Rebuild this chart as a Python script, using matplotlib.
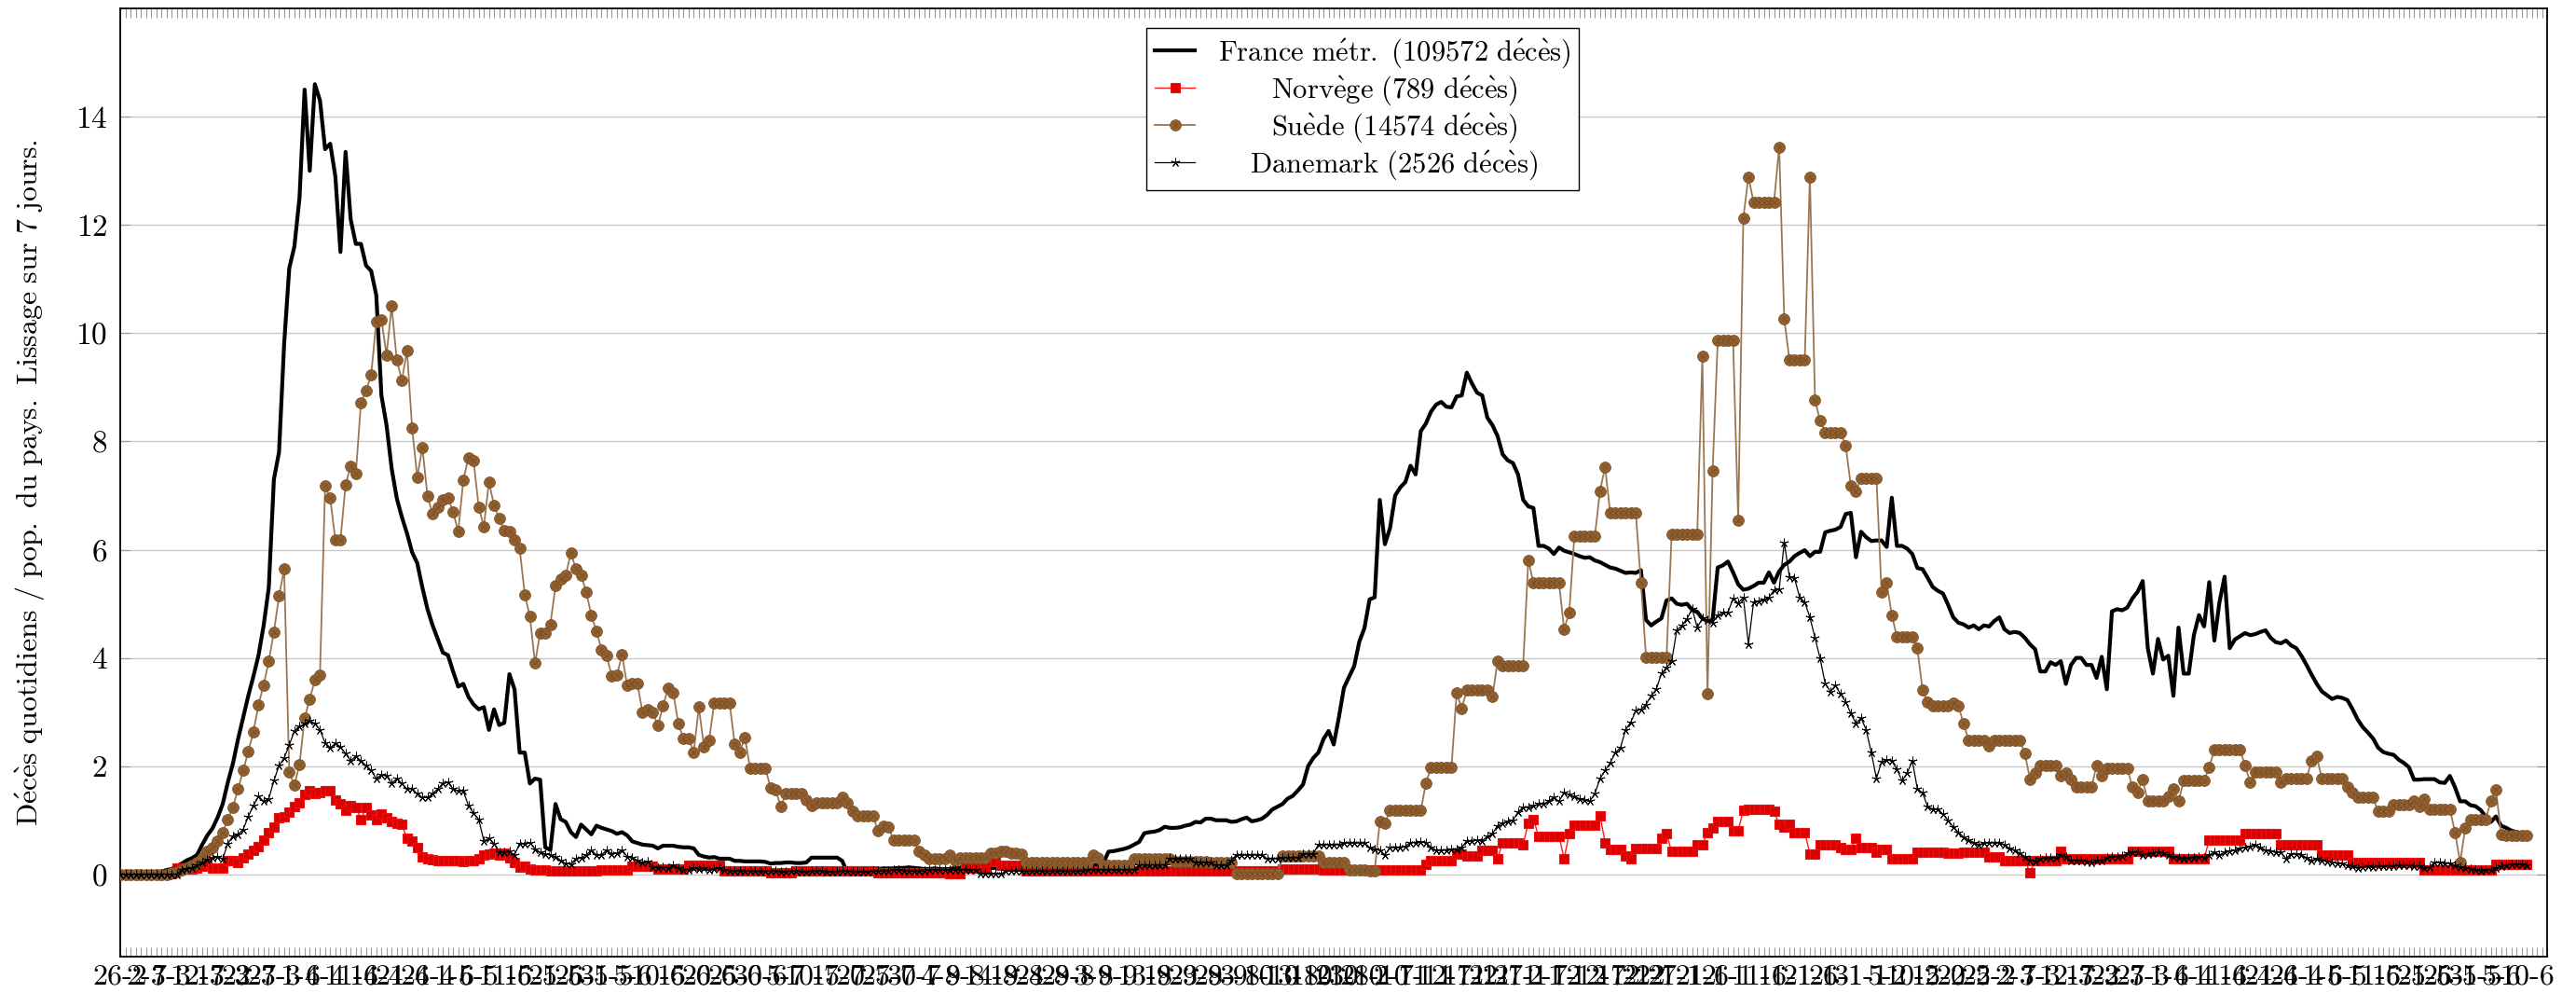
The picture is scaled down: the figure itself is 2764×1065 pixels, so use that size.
import datetime
import numpy as np
import matplotlib
matplotlib.use('Agg')
import matplotlib.pyplot as plt
from matplotlib.legend_handler import HandlerTuple

plt.rcParams['font.family'] = ['cmr10', 'DejaVu Serif']
plt.rcParams['mathtext.fontset'] = 'cm'
plt.rcParams['axes.unicode_minus'] = False
plt.rcParams['axes.formatter.use_mathtext'] = True

start_date = datetime.date(2020, 2, 26)

# daily deaths / population, 7-day smoothing
france = [
    0, 0, 0, 0, 0.01, 0.01, 0.02, 0.03, 0.05, 0.08,
    0.1, 0.15, 0.2, 0.26, 0.3, 0.36, 0.55, 0.72, 0.85, 1.05,
    1.3, 1.7, 2.05, 2.5, 2.9, 3.3, 3.66, 4.05, 4.6, 5.3,
    7.3, 7.8, 9.8, 11.2, 11.6, 12.5, 14.5, 13.0, 14.6, 14.3,
    13.4, 13.5, 12.9, 11.5, 13.35, 12.1, 11.65, 11.65, 11.25, 11.15,
    10.7, 8.85, 8.3, 7.5, 6.95, 6.6, 6.3, 5.95, 5.75, 5.3,
    4.9, 4.6, 4.35, 4.1, 4.05, 3.75, 3.47, 3.52, 3.28, 3.14,
    3.05, 3.09, 2.67, 3.05, 2.76, 2.8, 3.7, 3.42, 2.25, 2.25,
    1.68, 1.77, 1.75, 0.5, 0.45, 1.3, 1.02, 0.97, 0.78, 0.69,
    0.92, 0.83, 0.74, 0.9, 0.86, 0.83, 0.8, 0.75, 0.78, 0.72,
    0.61, 0.58, 0.55, 0.54, 0.53, 0.48, 0.53, 0.53, 0.53, 0.51,
    0.5, 0.5, 0.48, 0.36, 0.33, 0.31, 0.32, 0.29, 0.29, 0.29,
    0.25, 0.25, 0.24, 0.24, 0.24, 0.24, 0.23, 0.2, 0.21, 0.21,
    0.22, 0.22, 0.21, 0.21, 0.22, 0.31, 0.31, 0.31, 0.31, 0.31,
    0.31, 0.25, 0.03, 0.03, 0.03, 0.03, 0.03, 0.06, 0.1, 0.11,
    0.11, 0.11, 0.12, 0.12, 0.13, 0.12, 0.11, 0.1, 0.1, 0.11,
    0.1, 0.1, 0.1, 0.12, 0.12, 0.12, 0.12, 0.11, 0.11, 0.12,
    0.12, 0.12, 0.11, 0.11, 0.11, 0.12, 0.12, 0.12, 0.12, 0.13,
    0.13, 0.14, 0.17, 0.22, 0.26, 0.22, 0.2, 0.18, 0.18, 0.17,
    0.17, 0.17, 0.2, 0.42, 0.43, 0.45, 0.47, 0.5, 0.55, 0.6,
    0.76, 0.78, 0.79, 0.82, 0.88, 0.86, 0.86, 0.87, 0.9, 0.92,
    0.97, 0.96, 1.03, 1.03, 1.0, 1.0, 1.0, 0.97, 0.98, 1.02,
    1.05, 0.98, 1.0, 1.03, 1.1, 1.2, 1.25, 1.3, 1.4, 1.45,
    1.55, 1.66, 2.0, 2.15, 2.25, 2.5, 2.65, 2.4, 2.9, 3.45,
    3.65, 3.85, 4.3, 4.55, 5.08, 5.12, 6.92, 6.1, 6.4, 7.0,
    7.15, 7.25, 7.55, 7.39, 8.19, 8.33, 8.55, 8.68, 8.73, 8.64,
    8.63, 8.83, 8.85, 9.27, 9.07, 8.9, 8.85, 8.44, 8.3, 8.1,
    7.76, 7.65, 7.6, 7.39, 6.92, 6.8, 6.77, 6.07, 6.07, 6.02,
    5.92, 6.04, 5.98, 5.95, 5.92, 5.88, 5.85, 5.86, 5.8, 5.77,
    5.72, 5.67, 5.65, 5.61, 5.57, 5.58, 5.57, 5.62, 4.7, 4.6,
    4.67, 4.73, 5.06, 5.1, 5.0, 4.98, 5.0, 4.89, 4.85, 4.73,
    4.68, 4.7, 5.67, 5.71, 5.78, 5.58, 5.36, 5.26, 5.28, 5.33,
    5.39, 5.39, 5.58, 5.39, 5.6, 5.72, 5.78, 5.88, 5.94, 5.99,
    5.88, 5.96, 5.96, 6.32, 6.35, 6.37, 6.42, 6.66, 6.68, 5.86,
    6.33, 6.23, 6.16, 6.17, 6.17, 6.05, 6.96, 6.07, 6.07, 6.02,
    5.92, 5.66, 5.64, 5.48, 5.31, 5.24, 5.19, 4.98, 4.75, 4.65,
    4.62, 4.56, 4.6, 4.53, 4.6, 4.58, 4.68, 4.75, 4.53, 4.46,
    4.48, 4.46, 4.37, 4.25, 4.16, 3.75, 3.75, 3.92, 3.87, 3.94,
    3.52, 3.87, 4.0, 4.0, 3.87, 3.87, 3.63, 4.02, 3.42, 4.86,
    4.9, 4.88, 4.93, 5.1, 5.22, 5.42, 4.18, 3.71, 4.35, 3.97,
    4.04, 3.3, 4.56, 3.71, 3.71, 4.42, 4.79, 4.58, 5.4, 4.32,
    5.03, 5.5, 4.18, 4.34, 4.4, 4.46, 4.42, 4.44, 4.48, 4.51,
    4.37, 4.29, 4.27, 4.32, 4.23, 4.18, 4.04, 3.87, 3.69, 3.52,
    3.38, 3.31, 3.24, 3.28, 3.26, 3.22, 3.05, 2.86, 2.72, 2.62,
    2.51, 2.34, 2.26, 2.23, 2.21, 2.12, 2.06, 1.98, 1.75, 1.75,
    1.76, 1.76, 1.76, 1.7, 1.69, 1.82, 1.61, 1.35, 1.35, 1.28,
    1.26, 1.19, 1.07, 0.97, 1.07, 0.9, 0.86, 0.81, 0.78, 0.76,
    0.75,
]

norvege = [
    0, 0, 0, 0, 0, 0, 0, 0, 0, 0,
    0.02, 0.12, 0.12, 0.12, 0.1, 0.12, 0.15, 0.22, 0.12, 0.12,
    0.12, 0.26, 0.26, 0.22, 0.31, 0.38, 0.45, 0.52, 0.64, 0.78,
    0.88, 1.04, 1.07, 1.15, 1.25, 1.32, 1.47, 1.54, 1.5, 1.52,
    1.54, 1.54, 1.37, 1.3, 1.19, 1.27, 1.24, 1.02, 1.23, 1.1,
    1.02, 1.11, 1.05, 0.97, 0.95, 0.92, 0.66, 0.62, 0.5, 0.33,
    0.29, 0.27, 0.26, 0.26, 0.26, 0.26, 0.25, 0.24, 0.26, 0.26,
    0.29, 0.36, 0.38, 0.4, 0.36, 0.39, 0.3, 0.22, 0.14, 0.15,
    0.1, 0.08, 0.08, 0.08, 0.07, 0.07, 0.07, 0.07, 0.07, 0.07,
    0.07, 0.07, 0.07, 0.07, 0.08, 0.08, 0.08, 0.08, 0.08, 0.08,
    0.15, 0.15, 0.15, 0.15, 0.15, 0.1, 0.1, 0.1, 0.1, 0.1,
    0.1, 0.17, 0.17, 0.17, 0.17, 0.17, 0.17, 0.17, 0.06, 0.06,
    0.06, 0.06, 0.06, 0.06, 0.06, 0.06, 0.06, 0.03, 0.03, 0.03,
    0.03, 0.03, 0.06, 0.06, 0.06, 0.06, 0.06, 0.06, 0.06, 0.06,
    0.06, 0.06, 0.06, 0.06, 0.06, 0.06, 0.06, 0.06, 0.03, 0.03,
    0.03, 0.03, 0.03, 0.03, 0.03, 0.03, 0.03, 0.03, 0.03, 0.03,
    0.03, 0.03, 0.01, 0.01, 0.01, 0.12, 0.12, 0.12, 0.12, 0.12,
    0.24, 0.24, 0.17, 0.17, 0.17, 0.17, 0.17, 0.06, 0.06, 0.06,
    0.06, 0.06, 0.06, 0.06, 0.06, 0.06, 0.06, 0.06, 0.06, 0.06,
    0.06, 0.06, 0.06, 0.06, 0.06, 0.06, 0.06, 0.06, 0.06, 0.06,
    0.06, 0.06, 0.06, 0.06, 0.06, 0.06, 0.06, 0.06, 0.06, 0.06,
    0.06, 0.06, 0.06, 0.06, 0.06, 0.06, 0.06, 0.06, 0.06, 0.06,
    0.06, 0.06, 0.06, 0.06, 0.06, 0.06, 0.06, 0.1, 0.1, 0.1,
    0.1, 0.1, 0.1, 0.1, 0.1, 0.09, 0.09, 0.09, 0.09, 0.09,
    0.09, 0.09, 0.09, 0.09, 0.08, 0.08, 0.08, 0.08, 0.08, 0.08,
    0.08, 0.08, 0.08, 0.08, 0.08, 0.19, 0.26, 0.26, 0.26, 0.26,
    0.26, 0.38, 0.38, 0.34, 0.34, 0.34, 0.45, 0.45, 0.45, 0.29,
    0.59, 0.59, 0.59, 0.59, 0.55, 0.95, 1.02, 0.71, 0.71, 0.71,
    0.71, 0.71, 0.29, 0.76, 0.91, 0.91, 0.91, 0.91, 0.91, 1.09,
    0.59, 0.47, 0.47, 0.47, 0.34, 0.29, 0.48, 0.48, 0.48, 0.48,
    0.48, 0.66, 0.75, 0.42, 0.42, 0.42, 0.42, 0.42, 0.55, 0.55,
    0.78, 0.86, 0.97, 0.97, 0.97, 0.81, 0.81, 1.19, 1.21, 1.21,
    1.21, 1.21, 1.21, 1.16, 0.92, 0.88, 0.92, 0.78, 0.78, 0.78,
    0.38, 0.38, 0.55, 0.55, 0.55, 0.55, 0.5, 0.47, 0.47, 0.66,
    0.5, 0.5, 0.5, 0.41, 0.47, 0.47, 0.29, 0.29, 0.29, 0.29,
    0.29, 0.41, 0.41, 0.41, 0.41, 0.41, 0.41, 0.4, 0.4, 0.4,
    0.41, 0.41, 0.41, 0.41, 0.41, 0.33, 0.33, 0.33, 0.26, 0.26,
    0.26, 0.26, 0.26, 0.03, 0.26, 0.26, 0.26, 0.26, 0.26, 0.43,
    0.29, 0.29, 0.29, 0.29, 0.29, 0.29, 0.29, 0.29, 0.29, 0.29,
    0.29, 0.29, 0.29, 0.42, 0.42, 0.42, 0.42, 0.42, 0.42, 0.42,
    0.42, 0.29, 0.29, 0.29, 0.29, 0.29, 0.29, 0.29, 0.64, 0.64,
    0.64, 0.64, 0.64, 0.64, 0.64, 0.76, 0.76, 0.76, 0.76, 0.76,
    0.76, 0.76, 0.55, 0.55, 0.55, 0.55, 0.55, 0.55, 0.55, 0.55,
    0.36, 0.36, 0.36, 0.36, 0.36, 0.36, 0.22, 0.22, 0.22, 0.22,
    0.22, 0.22, 0.22, 0.22, 0.22, 0.22, 0.22, 0.22, 0.22, 0.22,
    0.08, 0.08, 0.08, 0.08, 0.08, 0.08, 0.08, 0.08, 0.08, 0.08,
    0.08, 0.08, 0.08, 0.08, 0.19, 0.19, 0.19, 0.19, 0.19, 0.19,
    0.19,
]

suede = [
    0, 0, 0, 0, 0, 0, 0, 0, 0, 0,
    0.03, 0.05, 0.08, 0.12, 0.17, 0.22, 0.31, 0.42, 0.5, 0.62,
    0.78, 1.02, 1.24, 1.58, 1.92, 2.27, 2.64, 3.14, 3.5, 3.94,
    4.48, 5.14, 5.64, 1.89, 1.65, 2.03, 2.89, 3.24, 3.59, 3.69,
    7.18, 6.95, 6.18, 6.18, 7.2, 7.55, 7.4, 8.71, 8.94, 9.23,
    10.22, 10.25, 9.6, 10.5, 9.5, 9.13, 9.68, 8.24, 7.34, 7.89,
    6.99, 6.66, 6.79, 6.92, 6.96, 6.7, 6.33, 7.29, 7.7, 7.64,
    6.79, 6.42, 7.25, 6.82, 6.58, 6.35, 6.33, 6.18, 6.02, 5.17,
    4.77, 3.9, 4.46, 4.46, 4.62, 5.33, 5.45, 5.52, 5.94, 5.64,
    5.53, 5.22, 4.79, 4.49, 4.15, 4.04, 3.66, 3.68, 4.06, 3.49,
    3.52, 3.52, 3.0, 3.05, 3.0, 2.75, 3.11, 3.44, 3.36, 2.78,
    2.51, 2.51, 2.26, 3.09, 2.36, 2.48, 3.17, 3.17, 3.17, 3.17,
    2.41, 2.26, 2.53, 1.96, 1.96, 1.96, 1.96, 1.6, 1.56, 1.25,
    1.49, 1.49, 1.49, 1.49, 1.38, 1.27, 1.32, 1.32, 1.32, 1.32,
    1.32, 1.42, 1.33, 1.16, 1.09, 1.09, 1.09, 1.09, 0.8, 0.9,
    0.88, 0.64, 0.64, 0.64, 0.64, 0.64, 0.42, 0.36, 0.29, 0.29,
    0.29, 0.29, 0.36, 0.26, 0.31, 0.31, 0.31, 0.31, 0.31, 0.31,
    0.4, 0.4, 0.42, 0.42, 0.4, 0.4, 0.38, 0.22, 0.22, 0.22,
    0.22, 0.22, 0.22, 0.22, 0.22, 0.22, 0.22, 0.22, 0.22, 0.22,
    0.36, 0.31, 0.17, 0.17, 0.17, 0.17, 0.17, 0.17, 0.29, 0.29,
    0.29, 0.29, 0.29, 0.29, 0.29, 0.29, 0.24, 0.24, 0.24, 0.24,
    0.24, 0.24, 0.24, 0.22, 0.22, 0.22, 0.22, 0.22, 0.01, 0.01,
    0.01, 0.01, 0.01, 0.01, 0.01, 0.01, 0.01, 0.34, 0.34, 0.34,
    0.34, 0.34, 0.34, 0.34, 0.34, 0.22, 0.22, 0.22, 0.22, 0.22,
    0.08, 0.08, 0.08, 0.08, 0.07, 0.07, 0.97, 0.95, 1.18, 1.18,
    1.18, 1.18, 1.18, 1.18, 1.18, 1.68, 1.98, 1.98, 1.98, 1.98,
    1.98, 3.35, 3.07, 3.4, 3.4, 3.4, 3.4, 3.4, 3.28, 3.94,
    3.85, 3.85, 3.85, 3.85, 3.85, 5.81, 5.39, 5.39, 5.39, 5.39,
    5.39, 5.39, 4.53, 4.84, 6.25, 6.25, 6.25, 6.25, 6.25, 7.08,
    7.53, 6.68, 6.68, 6.68, 6.68, 6.68, 6.68, 5.39, 4.01, 4.01,
    4.01, 4.01, 4.01, 6.28, 6.28, 6.28, 6.28, 6.28, 6.28, 9.58,
    3.33, 7.46, 9.86, 9.86, 9.86, 9.86, 6.54, 12.13, 12.89, 12.42,
    12.42, 12.42, 12.42, 12.42, 13.44, 10.26, 9.51, 9.51, 9.51, 9.51,
    12.89, 8.77, 8.38, 8.17, 8.17, 8.17, 8.17, 7.92, 7.18, 7.08,
    7.32, 7.32, 7.32, 7.32, 5.22, 5.39, 4.79, 4.39, 4.39, 4.39,
    4.39, 4.18, 3.4, 3.19, 3.11, 3.11, 3.11, 3.11, 3.16, 3.12,
    2.79, 2.48, 2.48, 2.48, 2.48, 2.37, 2.48, 2.48, 2.48, 2.48,
    2.48, 2.48, 2.23, 1.75, 1.87, 2.01, 2.01, 2.01, 2.01, 1.82,
    1.87, 1.75, 1.61, 1.61, 1.61, 1.61, 2.01, 1.82, 1.96, 1.96,
    1.96, 1.96, 1.96, 1.61, 1.52, 1.75, 1.35, 1.35, 1.35, 1.35,
    1.44, 1.58, 1.35, 1.73, 1.73, 1.73, 1.73, 1.73, 1.98, 2.31,
    2.31, 2.31, 2.31, 2.31, 2.31, 2.01, 1.7, 1.9, 1.9, 1.9,
    1.9, 1.9, 1.7, 1.77, 1.77, 1.77, 1.77, 1.77, 2.1, 2.18,
    1.77, 1.77, 1.77, 1.77, 1.77, 1.61, 1.51, 1.42, 1.42, 1.42,
    1.42, 1.16, 1.16, 1.16, 1.28, 1.28, 1.28, 1.28, 1.35, 1.25,
    1.4, 1.21, 1.21, 1.21, 1.21, 1.21, 0.78, 0.22, 0.86, 1.02,
    1.02, 1.02, 1.02, 1.35, 1.57, 0.74, 0.72, 0.72, 0.72, 0.72,
    0.72,
]

danemark = [
    0, 0, 0, 0, 0, 0, 0, 0, 0, 0,
    0, 0, 0.08, 0.1, 0.12, 0.17, 0.22, 0.27, 0.3, 0.33,
    0.29, 0.57, 0.71, 0.74, 0.83, 1.07, 1.27, 1.44, 1.35, 1.4,
    1.73, 2.01, 2.15, 2.39, 2.65, 2.74, 2.78, 2.84, 2.79, 2.67,
    2.43, 2.34, 2.42, 2.36, 2.23, 2.1, 2.18, 2.1, 2.01, 1.92,
    1.77, 1.84, 1.82, 1.68, 1.77, 1.68, 1.58, 1.58, 1.49, 1.42,
    1.42, 1.49, 1.58, 1.68, 1.7, 1.58, 1.54, 1.54, 1.27, 1.13,
    1.02, 0.62, 0.66, 0.57, 0.41, 0.41, 0.42, 0.36, 0.57, 0.57,
    0.59, 0.47, 0.41, 0.38, 0.36, 0.33, 0.26, 0.2, 0.19, 0.29,
    0.31, 0.36, 0.45, 0.36, 0.36, 0.45, 0.38, 0.39, 0.45, 0.33,
    0.31, 0.26, 0.22, 0.24, 0.14, 0.12, 0.14, 0.12, 0.17, 0.12,
    0.08, 0.09, 0.12, 0.1, 0.11, 0.08, 0.1, 0.12, 0.08, 0.07,
    0.07, 0.06, 0.06, 0.07, 0.06, 0.05, 0.06, 0.07, 0.06, 0.05,
    0.05, 0.06, 0.06, 0.05, 0.05, 0.06, 0.07, 0.06, 0.05, 0.05,
    0.05, 0.06, 0.06, 0.05, 0.05, 0.04, 0.05, 0.06, 0.06, 0.07,
    0.07, 0.08, 0.08, 0.07, 0.06, 0.06, 0.07, 0.07, 0.08, 0.09,
    0.09, 0.09, 0.09, 0.09, 0.09, 0.09, 0.09, 0.09, 0.01, 0.01,
    0.01, 0.01, 0.01, 0.06, 0.06, 0.06, 0.06, 0.06, 0.06, 0.06,
    0.06, 0.06, 0.06, 0.06, 0.06, 0.06, 0.06, 0.06, 0.06, 0.09,
    0.09, 0.09, 0.09, 0.09, 0.09, 0.09, 0.09, 0.09, 0.09, 0.17,
    0.17, 0.17, 0.17, 0.17, 0.17, 0.29, 0.29, 0.29, 0.29, 0.29,
    0.22, 0.22, 0.22, 0.22, 0.17, 0.17, 0.17, 0.26, 0.36, 0.36,
    0.36, 0.36, 0.36, 0.36, 0.29, 0.29, 0.29, 0.31, 0.31, 0.31,
    0.31, 0.38, 0.38, 0.38, 0.55, 0.55, 0.55, 0.55, 0.55, 0.58,
    0.58, 0.58, 0.58, 0.58, 0.5, 0.47, 0.45, 0.36, 0.5, 0.5,
    0.5, 0.52, 0.59, 0.59, 0.6, 0.59, 0.5, 0.45, 0.45, 0.45,
    0.46, 0.47, 0.5, 0.62, 0.62, 0.63, 0.62, 0.7, 0.75, 0.9,
    0.95, 0.97, 1.0, 1.15, 1.24, 1.24, 1.27, 1.3, 1.3, 1.36,
    1.42, 1.35, 1.51, 1.47, 1.44, 1.4, 1.37, 1.35, 1.49, 1.77,
    1.92, 2.06, 2.25, 2.34, 2.67, 2.81, 3.02, 3.05, 3.14, 3.3,
    3.42, 3.71, 3.82, 3.94, 4.51, 4.6, 4.72, 4.91, 4.56, 4.73,
    4.7, 4.65, 4.79, 4.84, 4.84, 5.1, 5.01, 5.12, 4.25, 5.03,
    5.05, 5.08, 5.12, 5.25, 5.26, 6.13, 5.5, 5.47, 5.12, 5.03,
    4.75, 4.37, 3.99, 3.52, 3.38, 3.49, 3.33, 3.19, 2.97, 2.79,
    2.89, 2.67, 2.25, 1.77, 2.08, 2.12, 2.1, 1.94, 1.73, 1.87,
    2.1, 1.58, 1.51, 1.25, 1.21, 1.21, 1.11, 1.0, 0.88, 0.78,
    0.69, 0.64, 0.59, 0.55, 0.58, 0.59, 0.58, 0.59, 0.55, 0.48,
    0.45, 0.39, 0.33, 0.26, 0.24, 0.29, 0.31, 0.3, 0.31, 0.36,
    0.33, 0.26, 0.25, 0.25, 0.24, 0.22, 0.25, 0.26, 0.31, 0.33,
    0.33, 0.34, 0.39, 0.41, 0.41, 0.36, 0.37, 0.39, 0.41, 0.39,
    0.36, 0.33, 0.31, 0.29, 0.3, 0.31, 0.33, 0.31, 0.36, 0.41,
    0.36, 0.41, 0.43, 0.45, 0.48, 0.5, 0.52, 0.55, 0.5, 0.45,
    0.43, 0.41, 0.41, 0.29, 0.38, 0.37, 0.36, 0.31, 0.26, 0.29,
    0.26, 0.24, 0.22, 0.21, 0.2, 0.17, 0.15, 0.12, 0.14, 0.15,
    0.14, 0.15, 0.15, 0.15, 0.16, 0.17, 0.17, 0.17, 0.16, 0.15,
    0.12, 0.14, 0.22, 0.22, 0.21, 0.2, 0.17, 0.14, 0.12, 0.1,
    0.08, 0.06, 0.08, 0.09, 0.12, 0.15, 0.17, 0.18, 0.19, 0.19,
    0.17,
]

labels = ['France métr. (109572 décès)', 'Norvège (789 décès)',
          'Suède (14574 décès)', 'Danemark (2526 décès)']
ylabel = 'Décès quotidiens / pop. du pays. Lissage sur 7 jours.'


def cm_text(s):
    # Computer Modern text with proper accents through mathtext
    s = s.replace(' ', r'\ ').replace('é', r'\acute{e}').replace('è', r'\grave{e}')
    return r'$\mathrm{' + s + '}$'


n_days = len(france)
tick_days = list(range(0, n_days, 5))
tick_labels = []
for d in tick_days:
    dt = start_date + datetime.timedelta(days=d)
    tick_labels.append('%d-%d' % (dt.day, dt.month))

fig = plt.figure(figsize=(27.64, 10.65), dpi=100)
ax = fig.add_axes([0.0467, 0.0366, 0.9421, 0.9549])

l_fr, = ax.plot(np.arange(len(france)), france, color='black', lw=3.0, zorder=3)
l_no, = ax.plot(np.arange(len(norvege)), norvege, color='#ff1a1a', lw=1.0, marker='s', ms=7.5,
                mfc='#dd0000', mec='#ee1111', mew=0.8, zorder=4)
l_se, = ax.plot(np.arange(len(suede)), suede, color='#9b7653', lw=1.3, marker='o', ms=8.5,
                mfc='#93602f', mec='#7a4e25', mew=0.6, zorder=5)
x_se, = ax.plot(np.arange(len(suede)), suede, ls='none', marker='x', ms=5,
                mec='#6a4420', mew=0.5, alpha=0.7, zorder=5)
l_dk, = ax.plot(np.arange(len(danemark)), danemark, color='black', lw=0.9, marker=(5, 2, 0), ms=7,
                mew=0.7, zorder=6)

ax.set_xlim(0, 474)
ax.set_ylim(-1.52, 16.0)
ax.set_yticks(range(0, 15, 2))
ax.set_xticks(tick_days)
ax.set_xticklabels(tick_labels)
ax.set_xticks(range(0, 475), minor=True)
ax.grid(axis='y', color='#c8c8c8', lw=1.0)
ax.set_axisbelow(True)

ax.tick_params(axis='x', which='both', direction='in', top=True, bottom=True,
               length=7, width=0.8, color='#999999', labelsize=23, pad=6)
ax.tick_params(axis='y', which='both', direction='in', left=True, right=True,
               length=8, width=0.8, color='#999999', labelsize=24, pad=10)
for s in ax.spines.values():
    s.set_linewidth(1.3)

ax.set_ylabel(cm_text(ylabel), fontsize=23, labelpad=22)

leg = ax.legend([l_fr, l_no, (l_se, x_se), l_dk], [cm_text(t) for t in labels],
                handler_map={tuple: HandlerTuple(ndivide=1)}, numpoints=1,
                loc='upper center', bbox_to_anchor=(0.512, 0.979), borderaxespad=0,
                fontsize=22, frameon=True, fancybox=False, edgecolor='black', framealpha=1,
                handlelength=1.4, handletextpad=0.8, borderpad=0.3, labelspacing=0.15)
leg.get_frame().set_linewidth(1.0)

# centre the entries' texts like the original legend
fig.canvas.draw()
renderer = fig.canvas.get_renderer()
texts = leg.get_texts()
widths = [t.get_window_extent(renderer).width for t in texts]
wmax = max(widths)
for t, w in zip(texts, widths):
    t.set_x((wmax - w) / 2.0)

fig.savefig('out.png', dpi=100)
